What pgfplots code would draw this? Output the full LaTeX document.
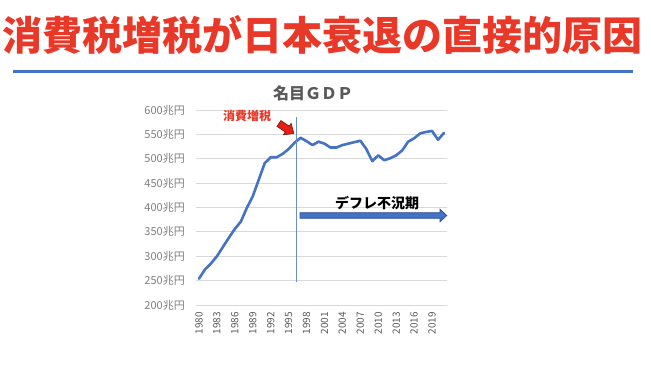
\documentclass[border=0pt]{standalone}
\usepackage{fontspec}
\setmainfont{Noto Sans CJK JP}
\usepackage{pgfplots}
\pgfplotsset{compat=1.18}
\definecolor{exblue}{RGB}{68,114,196}
\definecolor{exbluedark}{RGB}{47,82,143}
\definecolor{titlered}{RGB}{233,56,40}
\definecolor{arrowred}{RGB}{230,30,20}
\definecolor{arrowreddark}{RGB}{120,20,15}
\definecolor{gridgray}{RGB}{217,217,217}
\definecolor{labgray}{RGB}{127,127,127}
\definecolor{labdark}{RGB}{89,89,89}
\pgfplotstableread{
year gdp
1980 254
1981 273
1982 285
1983 300
1984 319
1985 338
1986 356
1987 371
1988 399
1989 423
1990 457
1991 491
1992 503
1993 503
1994 510
1995 520
1996 533
1997 543
1998 536
1999 528
2000 535
2001 531
2002 523
2003 523
2004 528
2005 531
2006 534
2007 537
2008 520
2009 495
2010 507
2011 497
2012 501
2013 507
2014 517
2015 535
2016 542
2017 552
2018 555
2019 557
2020 539
2021 553
}\gdpdata
\begin{document}
\begin{tikzpicture}
\path[use as bounding box] (0,0) rectangle (651pt,378pt);
\fill[white] (0,0) rectangle (651pt,378pt);
\node[text=titlered, font=\fontsize{40}{40}\selectfont\bfseries, inner sep=0pt] at (322.5pt,343pt) {消費税増税が日本衰退の直接的原因};
\draw[exblue, line width=3pt] (13pt,306pt) -- (633pt,306pt);
\node[text=labdark, font=\fontsize{16}{16}\selectfont\bfseries, inner sep=0pt] at (313pt,285pt) {名目ＧＤＰ};
\begin{axis}[
  at={(196pt,73pt)}, anchor=south west,
  scale only axis, width=251pt, height=195pt,
  xmin=1979.5, xmax=2021.5, ymin=200, ymax=600,
  axis line style={draw=none},
  major tick length=0pt,
  ymajorgrids, grid style={gridgray, line width=0.9pt},
  ytick={200,250,...,600},
  yticklabels={200兆円,250兆円,300兆円,350兆円,400兆円,450兆円,500兆円,550兆円,600兆円},
  yticklabel style={text=labgray, font=\fontsize{11}{11}\selectfont, inner sep=0pt, anchor=east, xshift=-11pt},
  xtick={1980,1983,...,2019},
  xticklabels={1980,1983,1986,1989,1992,1995,1998,2001,2004,2007,2010,2013,2016,2019},
  xticklabel style={yshift=-7pt, text=labdark, font=\fontsize{10}{10}\selectfont, rotate=90, anchor=east, inner sep=0pt},
  clip=false,
]
\addplot[exblue, line width=2.6pt, line join=round, line cap=round] table[x=year, y=gdp] {\gdpdata};
\draw[exblue!80, line width=0.8pt] (axis cs:1996.23,247) -- (axis cs:1996.23,585.6);
\end{axis}
\node[text=titlered, font=\fontsize{12}{12}\selectfont\bfseries, inner sep=0pt] at (247pt,262pt) {消費増税};
\begin{scope}[shift={(286.4pt,249.5pt)}, rotate=-34]
\filldraw[fill=arrowred, draw=arrowreddark, line width=0.6pt, line join=miter]
  (-9pt,-3.5pt) -- (1pt,-3.5pt) -- (1pt,-7pt) -- (9pt,0pt) -- (1pt,7pt) -- (1pt,3.5pt) -- (-9pt,3.5pt) -- cycle;
\end{scope}
\node[text=black, font=\fontsize{14}{14}\selectfont\bfseries, inner sep=0pt] at (377pt,175pt) {デフレ不況期};
\filldraw[fill=exblue, draw=exbluedark, line width=0.8pt, line join=miter]
  (300pt,159.7pt) -- (440pt,159.7pt) -- (440pt,156.3pt) -- (446.7pt,162.5pt) -- (440pt,168.7pt) -- (440pt,165.3pt) -- (300pt,165.3pt) -- cycle;
\end{tikzpicture}
\end{document}
